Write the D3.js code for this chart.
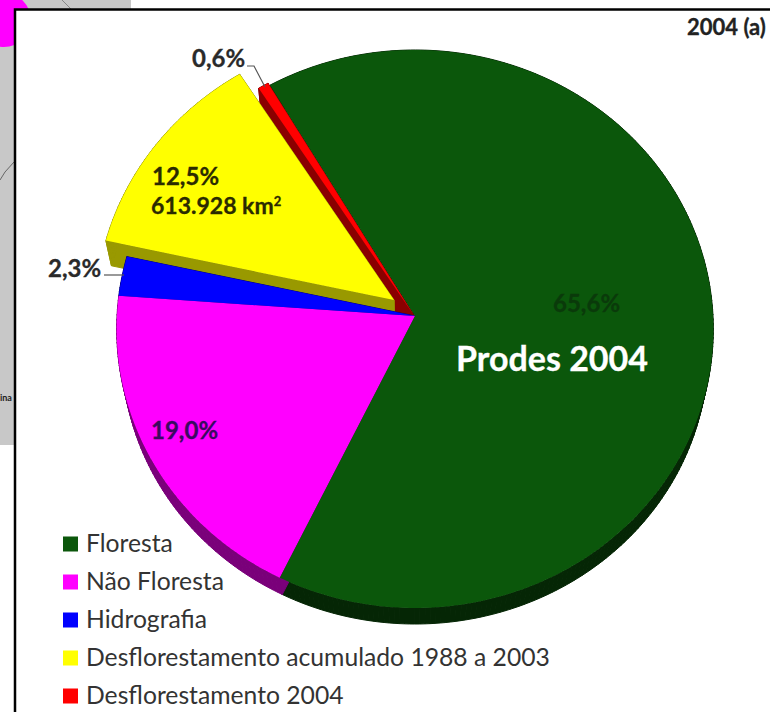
<!DOCTYPE html>
<html>
<head>
<meta charset="utf-8">
<style>
  html, body { margin: 0; padding: 0; background: #fff; }
  svg { display: block; }
  text { font-family: Lato, "Open Sans", sans-serif; }
</style>
<script src="https://cdn.jsdelivr.net/npm/d3@7"></script>
</head>
<body>
<svg id="chart" width="770" height="712"></svg>
<script>
var categories = ["Floresta", "Não Floresta", "Hidrografia", "Desflorestamento acumulado 1988 a 2003", "Desflorestamento 2004"];
var values = [65.6, 19.0, 2.3, 12.5, 0.6];
var colors = ["#0b570b", "#ff00ff", "#0000ff", "#ffff00", "#ff0000"];
var wallColors = ["#052605", "#7a007a", "#00007a", "#999900", "#8a0000"];

var svg = d3.select("#chart");
var color = d3.scaleOrdinal(categories, colors);
var wallColor = d3.scaleOrdinal(categories, wallColors);

// leftovers of the map behind the chart
svg.append("rect").attr("x", 0).attr("y", 0).attr("width", 131).attr("height", 10).attr("fill", "#c8c8c8");
svg.append("rect").attr("x", 0).attr("y", 0).attr("width", 15).attr("height", 445).attr("fill", "#c8c8c8");
svg.append("circle").attr("cx", 4).attr("cy", 20).attr("r", 27).attr("fill", "#ff00ff");
svg.append("path").attr("d", "M0,180 L5,172 L14,162").attr("fill", "none").attr("stroke", "#666");
svg.append("path").attr("d", "M62,0 L72,10").attr("fill", "none").attr("stroke", "#888");
svg.append("text").attr("x", 0).attr("y", 401).attr("font-size", 9).attr("font-weight", 700).attr("fill", "#222").text("ina");

// white panel of the chart
svg.append("rect").attr("x", 15).attr("y", 9.5).attr("width", 760).attr("height", 710)
  .attr("fill", "#fff").attr("stroke", "#000").attr("stroke-width", 2.5);

// pie is a tilted disc: angle -> perspective projection
var cx = 415, cy = 316, rx = 298, ry = 278.4, k = 0.0466;
function project(a, r) {
  var u = Math.sin(a) * r, v = Math.cos(a) * r, w = 1 + k * v;
  return [cx + rx * u / w, cy - ry * v / w];
}
// wall looks deeper towards the back of the disc
function lower(p) {
  return [cx + (p[0] - cx) * 0.982, p[1] + 16 + (608 - p[1]) * 0.025];
}

var startAngle = -30.4 * Math.PI / 180;
var pie = d3.pie().sort(null).startAngle(startAngle).endAngle(startAngle + 2 * Math.PI);
var slices = pie(values);
slices.forEach(function (d, i) { d.name = categories[i]; });

function outline(d, shift) {
  var n = Math.max(2, Math.ceil((d.endAngle - d.startAngle) * 60));
  var pts = [project(0, 0)];
  d3.range(n + 1).forEach(function (i) {
    pts.push(project(d.startAngle + (d.endAngle - d.startAngle) * i / n, 1));
  });
  return pts.map(function (p) { return [p[0] + shift[0], p[1] + shift[1]]; });
}

var line = d3.line();
var shifts = {};
shifts[categories[0]] = [0, 0];
shifts[categories[1]] = [0, 0];
shifts[categories[2]] = [0, 0];
shifts[categories[3]] = [-21, -16];
shifts[categories[4]] = [-2, -2];

var g = svg.append("g");
function slice(name) {
  return slices.filter(function (s) { return s.name === name; })[0];
}
function drawWall(name) {
  var top = outline(slice(name), shifts[name]);
  var bottom = top.map(lower);
  // each edge of the top face swept down to the lower face
  top.forEach(function (p, i) {
    var j = (i + 1) % top.length;
    g.append("path").attr("d", line([p, top[j], bottom[j], bottom[i]]) + "Z")
      .attr("fill", wallColor(name)).attr("stroke", wallColor(name)).attr("stroke-width", 1);
  });
}
function drawTop(name) {
  g.append("path").attr("d", line(outline(slice(name), shifts[name])) + "Z").attr("fill", color(name));
}

// back to front
var floresta = categories[0], naoFloresta = categories[1], hidro = categories[2], acumulado = categories[3], desf = categories[4];
drawWall(floresta);
drawWall(desf);
drawWall(acumulado);
drawTop(acumulado);
drawWall(hidro);
drawWall(naoFloresta);
drawTop(naoFloresta);
drawTop(hidro);
drawTop(floresta);
drawTop(desf);

// data labels
function label(txt, x, y, size, fill) {
  return svg.append("text").attr("x", x).attr("y", y).attr("font-size", size)
    .attr("font-weight", 700).attr("fill", fill).attr("stroke", fill).attr("stroke-width", 0.3).text(txt);
}
label("2004 (a)", 687, 35, 22, "#222");
label("0,6%", 192, 67, 24, "#2a2a2a");
label("2,3%", 48, 277, 24, "#2a2a2a");
label("12,5%", 152, 185, 24, "#2b2b00");
var km = label("613.928 km", 151, 214, 23, "#2b2b00");
km.append("tspan").attr("dy", -8).attr("font-size", 13).text("2");
label("19,0%", 151, 439, 24, "#3a0a60");
label("65,6%", 553, 312, 24, "#0a3a0a");
label("Prodes 2004", 456, 371, 34, "#ffffff");

svg.append("path").attr("d", "M247,66 L254,66 L265,87").attr("fill", "none").attr("stroke", "#555").attr("stroke-width", 1.2);
svg.append("path").attr("d", "M104,275 L124,275").attr("fill", "none").attr("stroke", "#555").attr("stroke-width", 1.2);

// legend
var legendY = d3.scalePoint().domain(categories).range([544, 696]);
var legend = svg.append("g").selectAll("g").data(categories).enter().append("g")
  .attr("transform", function (d) { return "translate(63," + legendY(d) + ")"; });
legend.append("rect").attr("x", 0).attr("y", -7.5).attr("width", 15).attr("height", 15)
  .attr("fill", function (d) { return color(d); });
legend.append("text").attr("x", 23).attr("y", 8).attr("font-size", 24.7).attr("fill", "#333")
  .text(function (d) { return d; });
</script>
</body>
</html>
